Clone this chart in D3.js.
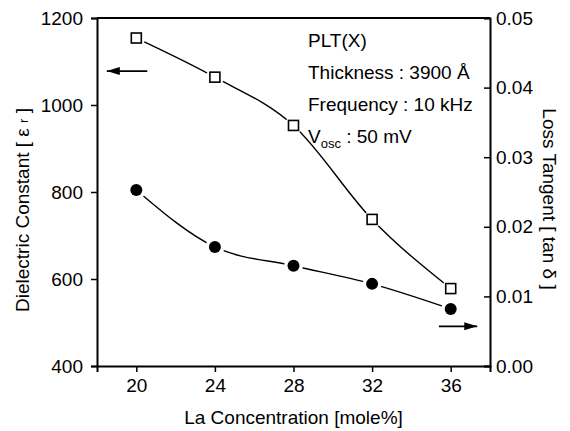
<!DOCTYPE html>
<html>
<head>
<meta charset="utf-8">
<script src="https://cdn.jsdelivr.net/npm/d3@7"></script>
<style>
  body { margin: 0; background: #fff; }
  svg { font-family: "Liberation Sans", Arial, sans-serif; }
</style>
</head>
<body>
<div id="chart"></div>
<script>
// Data
const concentration = [20, 24, 28, 32, 36];
const dielectric = [1154, 1064, 953, 737, 578];
const lossTangent = [0.0253, 0.0171, 0.0144, 0.0118, 0.0082];
const xTicks = [20, 24, 28, 32, 36];
const leftTicks = [400, 600, 800, 1000, 1200];
const rightTicks = [0, 0.01, 0.02, 0.03, 0.04, 0.05];
const notes = ['PLT(X)', 'Thickness : 3900 Å', 'Frequency : 10 kHz'];

const W = 570, H = 431;
const M = { top: 18, right: 80, bottom: 65, left: 97 };
const FS = 19;

const svg = d3.select('#chart').append('svg')
    .attr('width', W)
    .attr('height', H);

const x = d3.scaleLinear().domain([18, 38]).range([M.left, W - M.right]);
const yL = d3.scaleLinear().domain([400, 1200]).range([H - M.bottom, M.top]);
const yR = d3.scaleLinear().domain([0, 0.05]).range([H - M.bottom, M.top]);

// Axes
const gx = svg.append('g')
    .attr('transform', `translate(0,${H - M.bottom})`)
    .call(d3.axisBottom(x).tickValues(xTicks).tickSize(6).tickPadding(7));
const gl = svg.append('g')
    .attr('transform', `translate(${M.left},0)`)
    .call(d3.axisLeft(yL).tickValues(leftTicks).tickFormat(d3.format('d')).tickSize(6).tickPadding(8));
const gr = svg.append('g')
    .attr('transform', `translate(${W - M.right},0)`)
    .call(d3.axisRight(yR).tickValues(rightTicks).tickFormat(d3.format('.2f')).tickSize(-6).tickPadding(6));

[gx, gl, gr].forEach(g => {
    g.select('.domain').attr('stroke-width', 2).attr('stroke', '#000');
    g.selectAll('.tick line').attr('stroke-width', 1.5);
    g.selectAll('.tick text').attr('font-size', FS).attr('fill', '#000')
        .attr('font-family', '"Liberation Sans", Arial, sans-serif');
});
gr.selectAll('.tick text').attr('x', 6);

// top frame
svg.append('line')
    .attr('x1', M.left).attr('x2', W - M.right)
    .attr('y1', M.top).attr('y2', M.top)
    .attr('stroke', '#000').attr('stroke-width', 2);

// Axis titles
svg.append('text')
    .attr('x', (x(18) + x(38)) / 2)
    .attr('y', 424)
    .attr('text-anchor', 'middle')
    .attr('font-size', FS)
    .text('La Concentration [mole%]');

const lt = svg.append('text')
    .attr('transform', `translate(29,${(M.top + H - M.bottom) / 2 + 18}) rotate(-90)`)
    .attr('text-anchor', 'middle')
    .attr('font-size', FS);
lt.append('tspan').text('Dielectric Constant [ ε ');
lt.append('tspan').attr('font-size', 13).attr('dy', -1).text('r');
lt.append('tspan').attr('dy', 1).text(' ]');

svg.append('text')
    .attr('transform', `translate(543,${(M.top + H - M.bottom) / 2 + 7}) rotate(90)`)
    .attr('text-anchor', 'middle')
    .attr('font-size', FS)
    .text('Loss Tangent [ tan δ ]');

// Curves
const lineL = d3.line().x((d, i) => x(concentration[i])).y(d => yL(d)).curve(d3.curveMonotoneX);
const lineR = d3.line().x((d, i) => x(concentration[i])).y(d => yR(d)).curve(d3.curveMonotoneX);

svg.append('path').datum(dielectric).attr('d', lineL)
    .attr('fill', 'none').attr('stroke', '#000').attr('stroke-width', 1.4);
svg.append('path').datum(lossTangent).attr('d', lineR)
    .attr('fill', 'none').attr('stroke', '#000').attr('stroke-width', 1.4);

// white halos so lines stop short of markers
svg.selectAll('.haloL').data(dielectric).enter().append('circle')
    .attr('cx', (d, i) => x(concentration[i])).attr('cy', d => yL(d))
    .attr('r', 9).attr('fill', '#fff');
svg.selectAll('.haloR').data(lossTangent).enter().append('circle')
    .attr('cx', (d, i) => x(concentration[i])).attr('cy', d => yR(d))
    .attr('r', 9.5).attr('fill', '#fff');

svg.selectAll('.sq').data(dielectric).enter().append('rect')
    .attr('x', (d, i) => x(concentration[i]) - 5)
    .attr('y', d => yL(d) - 5)
    .attr('width', 10).attr('height', 10)
    .attr('fill', '#fff').attr('stroke', '#000').attr('stroke-width', 1.6);

svg.selectAll('.dot').data(lossTangent).enter().append('circle')
    .attr('cx', (d, i) => x(concentration[i]))
    .attr('cy', d => yR(d))
    .attr('r', 6).attr('fill', '#000');

// Arrows showing which axis each curve belongs to
function arrow(x1, y1, x2, y2) {
    svg.append('line')
        .attr('x1', x1).attr('y1', y1).attr('x2', x2).attr('y2', y2)
        .attr('stroke', '#000').attr('stroke-width', 1.8);
    const dir = Math.sign(x2 - x1);
    svg.append('path')
        .attr('d', `M${x2},${y2} L${x2 - dir * 13},${y2 - 4} L${x2 - dir * 13},${y2 + 4} Z`)
        .attr('fill', '#000');
}
arrow(x(20.56), yL(1078), x(18.5), yL(1078));
arrow(x(35.4), yR(0.0057), x(37.35), yR(0.0057));

// Annotation text
const note = svg.append('g').attr('font-size', FS);
notes.forEach((t, i) => {
    note.append('text').attr('x', 308).attr('y', 47 + i * 32).text(t);
});
const v = note.append('text').attr('x', 308).attr('y', 143);
v.append('tspan').text('V');
v.append('tspan').attr('font-size', 13).attr('dy', 5).text('osc');
v.append('tspan').attr('dy', -5).text(' : 50 mV');
</script>
</body>
</html>
